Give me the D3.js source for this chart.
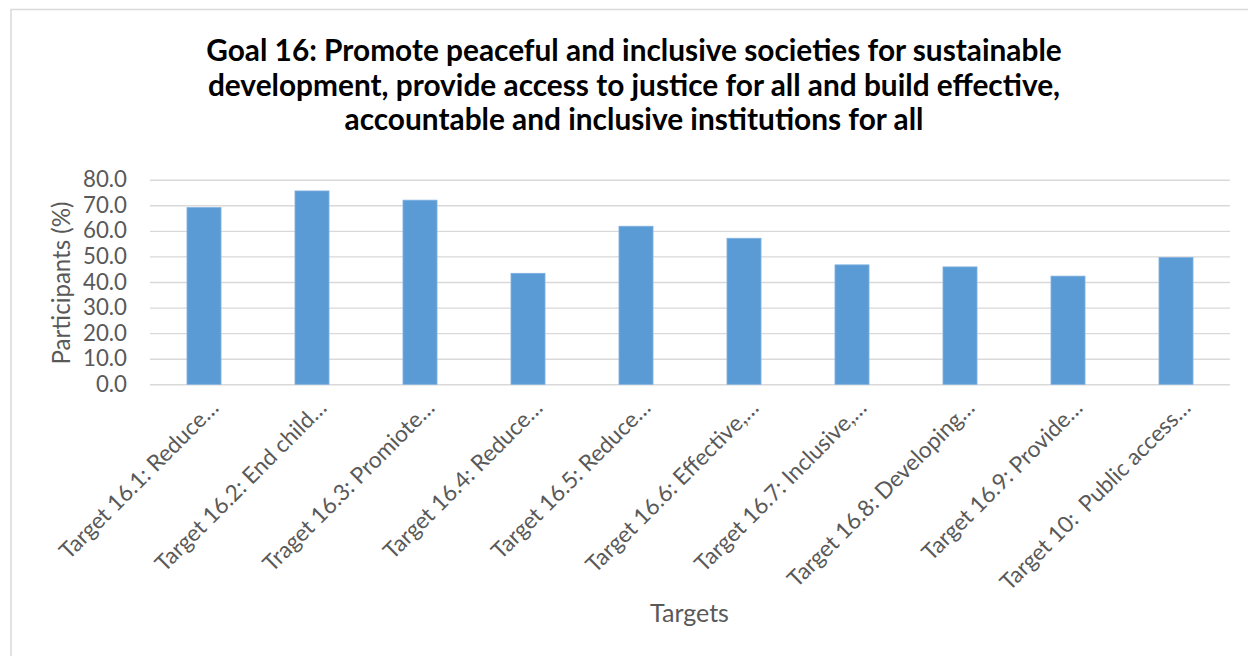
<!DOCTYPE html>
<html>
<head>
<meta charset="utf-8">
<script src="https://cdn.jsdelivr.net/npm/d3@7"></script>
<style>
  body { margin: 0; background: #fff; }
  svg text { font-family: Lato, "Open Sans", "DejaVu Sans", sans-serif; }
</style>
</head>
<body>
<svg id="chart" width="1248" height="656"></svg>
<script>
// Share of participants per Goal 16 target
const categories = [
  "Target 16.1: Reduce…",
  "Target 16.2: End child…",
  "Traget 16.3: Promiote…",
  "Target 16.4: Reduce…",
  "Target 16.5: Reduce…",
  "Target 16.6: Effective,…",
  "Target 16.7: Inclusive,…",
  "Target 16.8: Developing…",
  "Target 16.9: Provide…",
  "Target 10:  Public access…"
];
const values = [69.1, 75.6, 72.0, 43.4, 61.8, 57.1, 46.7, 45.9, 42.3, 49.6];
const yTicks = [0, 10, 20, 30, 40, 50, 60, 70, 80];
const titleLines = [
  "Goal 16: Promote peaceful and inclusive societies for sustainable",
  "development, provide access to justice for all and build effective,",
  "accountable and inclusive institutions for all"
];
const yTitle = "Participants (%)";
const xTitle = "Targets";

const svg = d3.select("#chart");
const plot = { left: 150, right: 1230, top: 179.7, bottom: 384.3 };

// scale a text selection's font so the first node spans the given width
function fitWidth(sel, width) {
  sel.style("font-size", "100px");
  const w = sel.node().getComputedTextLength();
  sel.style("font-size", (100 * width / w) + "px");
}

// chart frame
svg.append("rect")
  .attr("x", 11).attr("y", 9.5)
  .attr("width", 1300).attr("height", 700)
  .attr("fill", "#fff")
  .attr("stroke", "#d9d9d9").attr("stroke-width", 1.5);

const x = d3.scaleBand()
  .domain(categories)
  .range([plot.left, plot.right])
  .paddingInner(0.685)
  .paddingOuter(0.3425);

const y = d3.scaleLinear()
  .domain([0, 80])
  .range([plot.bottom, plot.top]);

// value axis with gridlines
const yAxis = svg.append("g")
  .attr("transform", `translate(${plot.left},0)`)
  .call(d3.axisLeft(y)
    .tickValues(yTicks)
    .tickSize(-(plot.right - plot.left))
    .tickPadding(23)
    .tickFormat(d3.format(".1f")));
yAxis.select(".domain").remove();
yAxis.selectAll(".tick line").attr("stroke", "#d9d9d9").attr("stroke-width", 1.4);
const yLabels = yAxis.selectAll(".tick text").attr("fill", "#595959");
fitWidth(yLabels.filter(d => d === 80), 44);
yLabels.style("font-size", yLabels.filter(d => d === 80).style("font-size"));

// bars
svg.append("g").selectAll("rect")
  .data(values)
  .join("rect")
  .attr("x", (d, i) => x(categories[i]))
  .attr("y", d => y(d))
  .attr("width", x.bandwidth())
  .attr("height", d => y(0) - y(d))
  .attr("fill", "#5b9bd5")
  .attr("stroke", "#7fb1e0")
  .attr("stroke-width", 0.8);

// category axis with slanted labels
const xAxis = svg.append("g")
  .attr("transform", `translate(0,${plot.bottom})`)
  .call(d3.axisBottom(x).tickSize(0));
xAxis.select(".domain").remove();
const xLabels = xAxis.selectAll(".tick text")
  .attr("fill", "#595959")
  .attr("text-anchor", "end")
  .attr("x", 0).attr("y", 0).attr("dy", null)
  .style("white-space", "pre")
  .attr("transform", "translate(16,25) rotate(-45)");
fitWidth(xLabels.filter((d, i) => i === 0), 214);
xLabels.style("font-size", xLabels.filter((d, i) => i === 0).style("font-size"));

// axis titles
const yT = svg.append("text")
  .attr("transform", "translate(70,283) rotate(-90)")
  .attr("text-anchor", "middle")
  .attr("fill", "#595959")
  .text(yTitle);
fitWidth(yT, 163);

const xT = svg.append("text")
  .attr("x", 689.5).attr("y", 622)
  .attr("text-anchor", "middle")
  .attr("fill", "#595959")
  .text(xTitle);
fitWidth(xT, 79);

// title
const title = svg.append("g").selectAll("text")
  .data(titleLines)
  .join("text")
  .attr("x", 634)
  .attr("y", (d, i) => 61 + i * 34.5)
  .attr("text-anchor", "middle")
  .attr("font-weight", "bold")
  .attr("fill", "#000")
  .text(d => d);
fitWidth(title.filter((d, i) => i === 0), 856);
title.style("font-size", title.filter((d, i) => i === 0).style("font-size"));
</script>
</body>
</html>
